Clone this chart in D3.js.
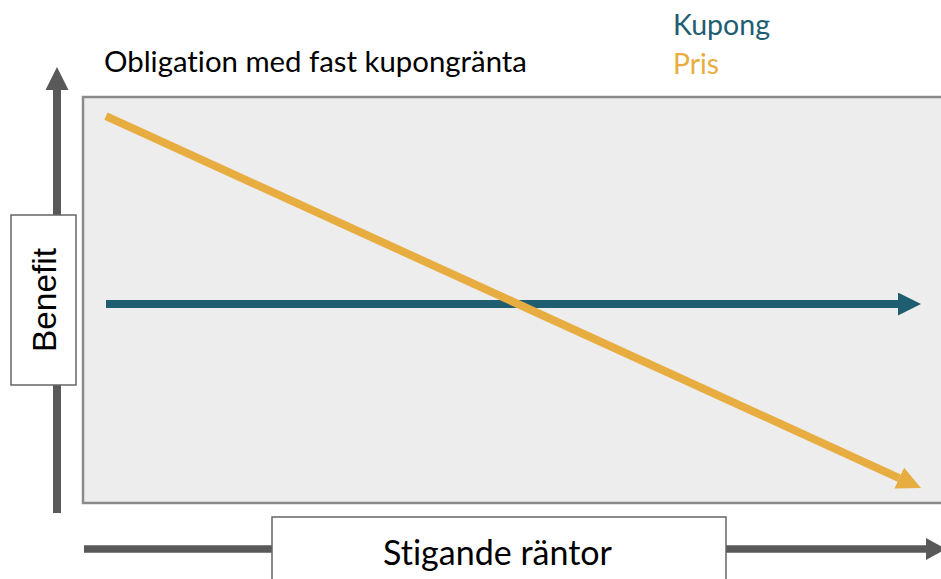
<!DOCTYPE html>
<html>
<head>
<meta charset="utf-8">
<script src="https://cdn.jsdelivr.net/npm/d3@7"></script>
<style>
  body { margin: 0; background: #fff; }
  svg { display: block; }
  text { font-variant-ligatures: none; }
</style>
</head>
<body>
<div id="chart"></div>
<script>
// data: rising interest rate (x) vs benefit (y), both unitless
var rates = [0, 10];
var kupong = [4.9, 4.9];
var pris = [9.53, 0.37];
var seriesNames = ["Kupong", "Pris"];
var seriesColors = ["#1f5d70", "#e8ad40"];
var title = "Obligation med fast kupongränta";
var xLabel = "Stigande räntor";
var yLabel = "Benefit";

var W = 941, H = 579;

var svg = d3.select("#chart").append("svg")
    .attr("width", W)
    .attr("height", H);

var defs = svg.append("defs");
function marker(id, color, len, half) {
  defs.append("marker")
    .attr("id", id)
    .attr("markerUnits", "userSpaceOnUse")
    .attr("viewBox", "0 " + (-half) + " " + len + " " + (2 * half))
    .attr("refX", 0).attr("refY", 0)
    .attr("markerWidth", len).attr("markerHeight", 2 * half)
    .attr("orient", "auto")
  .append("path")
    .attr("d", "M0," + (-half) + "L" + len + ",0L0," + half + "Z")
    .attr("fill", color);
}
marker("arr-axis-y", "#595959", 23, 11.5);
marker("arr-axis-x", "#595959", 20, 11);
marker("arr-0", seriesColors[0], 23, 11.5);
marker("arr-1", seriesColors[1], 24, 11.5);

// plot area box (runs off the right edge)
var box = {left: 83, top: 97, right: 950, bottom: 503};
svg.append("rect")
    .attr("x", box.left).attr("y", box.top)
    .attr("width", box.right - box.left)
    .attr("height", box.bottom - box.top)
    .attr("fill", "#ededed")
    .attr("stroke", "#8a8a8a")
    .attr("stroke-width", 2.5);

// scales
var x = d3.scaleLinear().domain([0, 10]).range([106, 921]);
var y = d3.scaleLinear().domain([0, 10]).range([503, 97]);

// draw a line with its tip at the last data point, shortened by the arrow length
function arrowLine(p0, p1, len, color, width, markerId) {
  var dx = p1[0] - p0[0], dy = p1[1] - p0[1];
  var d = Math.sqrt(dx * dx + dy * dy);
  var end = [p1[0] - dx / d * len, p1[1] - dy / d * len];
  svg.append("line")
    .attr("x1", p0[0]).attr("y1", p0[1])
    .attr("x2", end[0]).attr("y2", end[1])
    .attr("stroke", color)
    .attr("stroke-width", width)
    .attr("marker-end", "url(#" + markerId + ")");
}

// axes as arrows
arrowLine([57, 513], [57, 67], 23, "#595959", 8, "arr-axis-y");
arrowLine([84, 549], [946, 549], 20, "#595959", 7.5, "arr-axis-x");

// series
var series = [kupong, pris];
series.forEach(function(s, i) {
  arrowLine([x(rates[0]), y(s[0])], [x(rates[1]), y(s[1])],
    i == 0 ? 23 : 24, seriesColors[i], 8, "arr-" + i);
});

// fit a text element to a target width
function fit(sel, target) {
  var w = sel.node().getComputedTextLength();
  var fs = parseFloat(sel.attr("font-size"));
  sel.attr("font-size", fs * target / w);
}

// y label box
svg.append("rect")
    .attr("x", 11).attr("y", 215)
    .attr("width", 65).attr("height", 170)
    .attr("fill", "#fff")
    .attr("stroke", "#666")
    .attr("stroke-width", 1.5);
var yl = svg.append("text")
    .attr("transform", "translate(56,300) rotate(-90)")
    .attr("text-anchor", "middle")
    .attr("font-family", "'Liberation Sans', Arial, sans-serif")
    .attr("font-size", 32)
    .attr("fill", "#000")
    .text(yLabel);
fit(yl, 104);

// x label box
svg.append("rect")
    .attr("x", 272).attr("y", 517)
    .attr("width", 454).attr("height", 80)
    .attr("fill", "#fff")
    .attr("stroke", "#666")
    .attr("stroke-width", 1.5);
var xl = svg.append("text")
    .attr("x", 497.5).attr("y", 565)
    .attr("text-anchor", "middle")
    .attr("font-family", "Lato, sans-serif")
    .attr("font-size", 32)
    .attr("fill", "#000")
    .text(xLabel);
fit(xl, 229);

// title
var t = svg.append("text")
    .attr("x", 104).attr("y", 72)
    .attr("font-family", "Lato, sans-serif")
    .attr("font-size", 26)
    .attr("fill", "#000")
    .text(title);
fit(t, 423);

// legend
var legendWidths = [97, 46];
seriesNames.forEach(function(n, i) {
  var lt = svg.append("text")
    .attr("x", 673).attr("y", 35 + i * 39)
    .attr("font-family", "Lato, sans-serif")
    .attr("font-size", 28)
    .attr("fill", seriesColors[i])
    .text(n);
  fit(lt, legendWidths[i]);
});
</script>
</body>
</html>
